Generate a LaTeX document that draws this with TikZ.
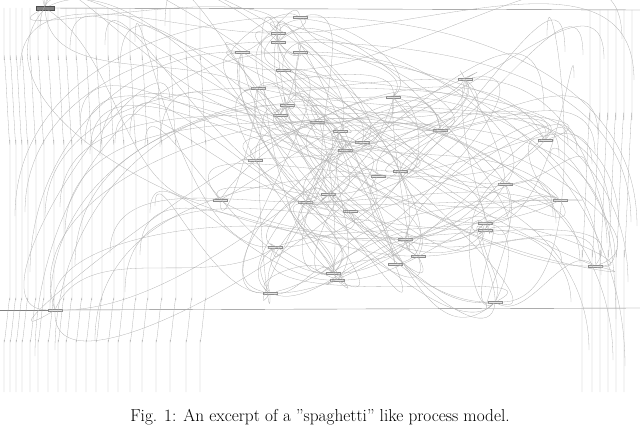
\documentclass[tikz,border=0pt]{standalone}
\begin{document}
\begin{tikzpicture}[x=1pt,y=-1pt,
  act/.style={draw=black!45,fill=black!10,line width=0.3pt,minimum width=14pt,minimum height=2.5pt,inner sep=0pt},
  edge/.style={draw=black!30,line width=0.3pt},
  frame/.style={draw=black!50,line width=0.4pt}]
\useasboundingbox (0,0) rectangle (640,425);
\foreach \n/\x/\y in {a1/300/17,a2/278/33,a3/278/42,a4/242/52,a5/300/52,a6/283/70,a7/258/88,a8/465/79,a9/287/105,a10/280/115,a11/317/122,a12/340/131,a13/393/97,a14/345/150,a15/362/142,a16/400/171,a17/378/176,a18/505/184,a19/328/194,a20/305/202,a21/350/211,a22/485/223,a23/485/230,a24/405/239,a25/275/247,a26/418/256,a27/333/273,a28/337/280,a29/270/293,a30/595/266,a31/495/302,a32/55/310,a34/395/264,a35/255/160,a36/545/140,a37/440/130,a38/220/200,a39/560/200}
  \node[act] (\n) at (\x,\y) {};
\node[draw=black!70,fill=black!50,minimum width=18pt,minimum height=4pt,inner sep=0pt] (a33) at (45,8) {};
\coordinate (tr) at (640,10);
\draw[frame] (a33) -- (tr);
\draw[frame] (a32.west) -- (0,310); \draw[frame] (a32.east) -- (640,308);
\foreach \x in {4,10,16,22,30,38,48,58,66,76,86,96,108,118,130,142,156,170,186,200}
  \draw[edge] (\x,8) -- (\x,60) to[out=90,in=-90] (\x+6,140) -- (\x+6,300) to[out=90,in=-90] (\x,340) -- (\x,392);
\foreach \x in {590,600,608,616,624,632}
  \draw[edge] (\x,10) -- (\x,120) to[out=90,in=-90] (\x-8,250) -- (\x-8,392);
\pgfmathsetseed{7}
\foreach \a in {1,...,39}{
  \foreach \k in {1,2,3,4}{
    \pgfmathtruncatemacro{\b}{int(random(1,39))}
    \pgfmathtruncatemacro{\o}{int(random(0,359))}
    \pgfmathtruncatemacro{\i}{int(random(0,359))}
    \ifnum\b=34\def\b{33}\fi
    \draw[edge] (a\a) to[out=\o,in=\i,looseness=0.9] (a\b);
  }
}
\foreach \a in {1,...,32}{
  \pgfmathtruncatemacro{\yy}{int(random(20,380))}
  \draw[edge] (a\a) to[out=180,in=90] (10+\a*5,\yy);
  \draw[edge] (a\a) to[out=0,in=90] (640-\a*3,\yy+10);
}
\node[font=\LARGE,anchor=base] (cap) at (320,421) {Fig. 1: An excerpt of a ''spaghetti'' like process model.};
\end{tikzpicture}
\end{document}
